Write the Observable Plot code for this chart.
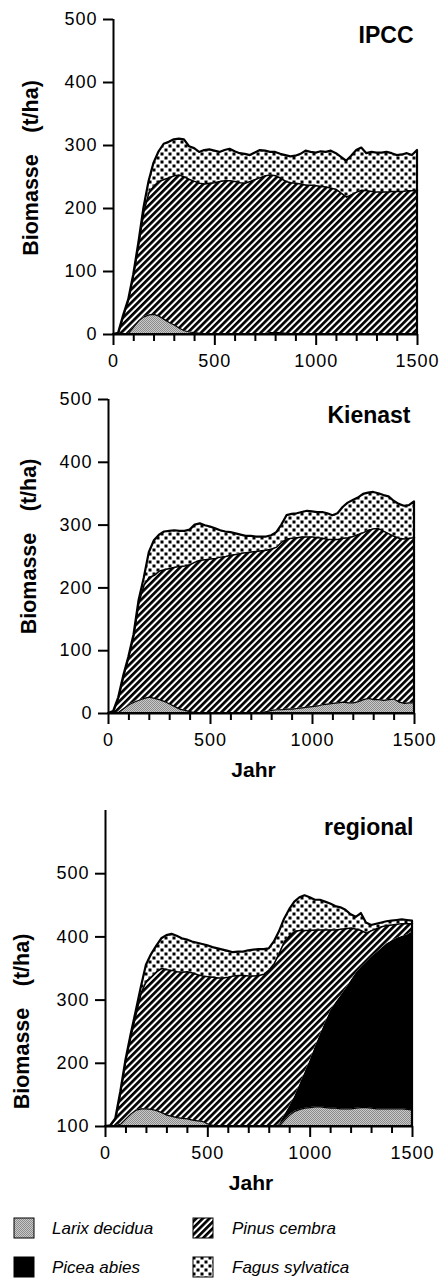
<!DOCTYPE html>
<html><head><meta charset="utf-8">
<script src="https://cdn.jsdelivr.net/npm/d3@7"></script>
<script src="https://cdn.jsdelivr.net/npm/@observablehq/plot@0.6"></script>
<style>
html,body{margin:0;padding:0;background:#fff;}
#root{position:relative;width:439px;height:1278px;overflow:hidden;font-family:"Liberation Sans",Arial,sans-serif;}
.panel{position:absolute;left:0;}
g[aria-label$="tick label"] text{letter-spacing:1px;}
g[aria-label="panel title"] text{letter-spacing:3.6px;}
g[aria-label="x label"] text{letter-spacing:1.3px;}
</style></head><body>
<svg width="0" height="0" style="position:absolute">
<defs>
<pattern id="larixPat" patternUnits="userSpaceOnUse" width="2" height="2">
 <rect width="2" height="2" fill="#cacaca"/>
 <rect width="1" height="1" fill="#8a8a8a"/>
 <rect x="1" y="1" width="1" height="1" fill="#8a8a8a"/>
</pattern>
<pattern id="pinusPat" patternUnits="userSpaceOnUse" width="4.7" height="10" patternTransform="rotate(45)">
 <rect width="4.7" height="10" fill="#fff"/>
 <rect width="2.7" height="10" fill="#000"/>
</pattern>
<pattern id="fagusPat" patternUnits="userSpaceOnUse" width="8" height="8">
 <rect width="8" height="8" fill="#fff"/>
 <rect x="0.5" y="0.5" width="3" height="3" fill="#000"/>
 <rect x="4.5" y="4.5" width="3" height="3" fill="#000"/>
</pattern>
</defs></svg>
<div id="root">
 <div class="panel" id="p1" style="top:0px"></div>
 <div class="panel" id="p2" style="top:380px"></div>
 <div class="panel" id="p3" style="top:780px"></div>
 <div class="panel" id="legend" style="top:1200px"></div>
</div>
<script>
const FONT = '"Liberation Sans", Arial, Helvetica, sans-serif';

// Jahr (x grid)
const years = [0,25,50,75,100,125,150,175,200,225,250,275,300,325,350,375,400,425,450,475,
  500,525,550,575,600,625,650,675,700,725,750,775,800,825,850,875,900,925,950,975,
  1000,1025,1050,1075,1100,1125,1150,1175,1200,1225,1250,1275,1300,1325,1350,1375,1400,1425,1450,1475,1500];

// Tick labels
const xMajorTicks = [0, 500, 1000, 1500];
const xMinorTicks = [100,200,300,400,600,700,800,900,1100,1200,1300,1400];
const yTicksA = [0, 100, 200, 300, 400, 500];
const yTicksC = [100, 200, 300, 400, 500];

// Titles and labels
const titles = ["IPCC", "Kienast", "regional"];
const yLabel = "Biomasse\u2003(t/ha)";
const xLabel = "Jahr";
const speciesNames = ["Larix decidua", "Pinus cembra", "Picea abies", "Fagus sylvatica"];

// Biomasse (t/ha) per species — IPCC
const ipccLarix = [0,0,0,2,12,22,28,31,32,29,24,19,15,10,6,4,3,2,1,1,
  0,0,0,0,0,0,0,0,0,0,2,3,3,3,2,1,0,0,0,0,
  0,0,0,0,0,0,0,0,0,0,0,0,0,0,0,0,0,0,0,0,0];
const ipccPinus = [0,2,30,53,83,121,167,194,204,214,222,230,237,243,244,242,240,238,238,239,
  241,243,244,244,243,241,240,243,246,249,250,250,249,245,241,240,240,239,237,237,
  236,235,234,232,230,224,218,222,226,229,228,227,226,226,226,227,227,227,228,228,229];
const ipccFagus = [0,0,0,0,0,2,5,17,36,47,56,56,57,57,59,52,52,49,53,53,
  50,46,48,50,47,46,46,41,42,43,39,36,37,38,41,41,43,47,54,52,
  52,55,55,59,57,57,57,61,66,67,59,62,62,62,63,60,57,58,59,56,63];

// Kienast
const kienLarix = [0,0,2,8,14,18,21,24,26,24,22,19,15,11,7,5,3,1,0,0,
  0,0,0,0,0,0,0,0,0,0,1,3,5,6,6,7,7,8,9,10,
  11,12,14,15,16,17,18,17,17,19,22,24,22,22,21,22,23,18,16,17,17];
const kienPinus = [0,3,23,52,76,107,157,181,191,196,205,210,216,222,227,230,234,240,244,245,
  246,247,249,250,252,253,255,256,257,258,258,257,257,259,267,271,272,272,272,271,
  270,268,265,262,261,260,261,263,265,266,266,268,272,272,269,264,259,261,262,262,263];
const kienFagus = [0,0,0,0,0,0,2,10,39,55,57,60,59,58,56,55,55,59,58,54,
  51,47,42,39,36,33,29,26,25,23,22,21,21,23,27,37,38,38,39,41,
  40,40,41,41,38,41,49,55,57,58,61,59,58,56,57,59,56,54,52,52,57];

// regional (axis starts at 100)
const regBase = 100;
const regLarix = [0,0,1,4,12,20,26,28,28,27,25,22,18,16,14,13,12,10,9,8,
  4,2,0,0,0,0,0,0,0,0,0,0,0,0,1,10,18,24,27,29,
  30,31,31,30,29,29,28,28,28,29,30,30,29,28,28,28,28,28,28,27,26];
const regPicea = [0,0,0,0,0,0,0,0,0,0,0,0,0,0,0,0,0,0,0,0,
  0,0,0,0,0,0,0,0,0,0,0,0,0,0,2,8,14,24,40,57,
  75,95,115,135,154,167,179,190,203,214,222,230,239,247,254,261,266,270,273,276,282];
const regPinus = [0,1,11,51,93,123,152,184,202,210,220,228,230,231,231,231,233,233,231,230,
  233,234,235,235,236,238,239,239,238,238,239,241,248,258,272,275,270,261,243,224,
  205,185,165,146,128,115,105,95,83,69,58,46,42,38,34,29,25,22,20,18,13];
const regFagus = [0,0,0,0,0,2,4,8,25,35,40,47,54,57,56,53,50,49,50,50,
  49,47,46,44,41,37,37,37,40,41,41,39,33,34,33,35,41,46,52,55,
  52,47,47,44,41,37,34,29,21,19,27,16,8,7,6,6,6,6,6,5,4];

const fills = {larix: "url(#larixPat)", picea: "#000", pinus: "url(#pinusPat)", fagus: "url(#fagusPat)"};
const fmt = d3.format("d");

function makePanel(cfg) {
  const rows = years.map((year, i) => {
    const base = cfg.base;
    const l = base + cfg.larix[i];
    const c = l + (cfg.picea ? cfg.picea[i] : 0);
    const p = c + cfg.pinus[i];
    const t = p + cfg.fagus[i];
    return {year, base, l, c, p, t};
  });
  const marks = [
    Plot.areaY(rows, {x: "year", y1: "base", y2: "l", fill: fills.larix}),
  ];
  if (cfg.picea) marks.push(Plot.areaY(rows, {x: "year", y1: "l", y2: "c", fill: fills.picea}));
  marks.push(
    Plot.areaY(rows, {x: "year", y1: "c", y2: "p", fill: fills.pinus}),
    Plot.areaY(rows, {x: "year", y1: "p", y2: "t", fill: fills.fagus}),
    Plot.lineY(rows, {x: "year", y: "l", stroke: "#000", strokeWidth: 1.2}),
    Plot.lineY(rows, {x: "year", y: "p", stroke: "#000", strokeWidth: 1.5}),
    Plot.areaY(rows, {x: "year", y1: "base", y2: "t", fill: "none", stroke: "#000", strokeWidth: 2.2, strokeLinejoin: "round"}),
    Plot.ruleX([0], {strokeWidth: 2}),
    Plot.ruleY([cfg.yDomain[0]], {strokeWidth: 2}),
    Plot.axisY(cfg.yTicks, {tickSize: 10, tickPadding: 6, strokeWidth: 2, label: null, fontSize: 18, tickFormat: fmt}),
    Plot.axisX(xMajorTicks, {tickSize: 11, tickPadding: 9, strokeWidth: 2, label: null, fontSize: 18, tickFormat: fmt}),
    Plot.axisX(xMinorTicks, {tickSize: 7, strokeWidth: 2, label: null, tickFormat: () => ""}),
    Plot.text([cfg.title], {text: d => d, frameAnchor: "top-right", textAnchor: "end", lineAnchor: "middle",
      dx: cfg.titleDx, dy: cfg.titleDy, fontWeight: "bold", fontSize: 23, ariaLabel: "panel title"}),
    Plot.text([yLabel], {text: d => d, frameAnchor: "left", rotate: -90, textAnchor: "middle", lineAnchor: "middle",
      dx: cfg.ylabDx, dy: cfg.ylabDy, fontWeight: "bold", fontSize: 21.5, ariaLabel: "y label"})
  );
  if (cfg.jahr) marks.push(
    Plot.text([xLabel], {text: d => d, frameAnchor: "bottom", textAnchor: "middle", lineAnchor: "middle",
      dx: cfg.jahrDx, dy: 57, fontWeight: "bold", fontSize: 21, ariaLabel: "x label"})
  );
  return Plot.plot({
    width: 439, height: cfg.height,
    marginTop: cfg.mt, marginBottom: cfg.mb, marginLeft: cfg.ml, marginRight: cfg.mr,
    x: {domain: [0, 1500]},
    y: {domain: cfg.yDomain},
    style: {fontFamily: FONT, fontSize: "18px", color: "#000", background: "transparent", overflow: "visible"},
    marks
  });
}

document.getElementById("p1").append(makePanel({
  height: 375, mt: 19, mb: 41, ml: 113, mr: 22, yDomain: [0, 500], yTicks: yTicksA, base: 0,
  title: titles[0], titleDx: -4, titleDy: 16, ylabDx: -82, ylabDy: -9,
  larix: ipccLarix, pinus: ipccPinus, fagus: ipccFagus, jahr: false
}));
document.getElementById("p2").append(makePanel({
  height: 400, mt: 19, mb: 67, ml: 108, mr: 25, yDomain: [0, 500], yTicks: yTicksA, base: 0,
  title: titles[1], titleDx: -4, titleDy: 16, ylabDx: -79, ylabDy: -10, jahrDx: -8,
  larix: kienLarix, pinus: kienPinus, fagus: kienFagus, jahr: true
}));
document.getElementById("p3").append(makePanel({
  height: 416, mt: 30, mb: 70, ml: 105, mr: 27, yDomain: [100, 600], yTicks: yTicksC, base: regBase,
  title: titles[2], titleDx: 1, titleDy: 17, ylabDx: -83, ylabDy: 53, jahrDx: -8,
  larix: regLarix, picea: regPicea, pinus: regPinus, fagus: regFagus, jahr: true
}));

// Legend
const legendFills = [fills.larix, fills.pinus, fills.picea, fills.fagus];
const leg = d3.select("#legend").append("svg").attr("width", 439).attr("height", 78)
  .style("font-family", FONT);
speciesNames.forEach((name, i) => {
  const col = i % 2, row = Math.floor(i / 2);
  const sx = col === 0 ? 14 : 193, sy = row === 0 ? 18 : 57;
  leg.append("rect").attr("x", sx).attr("y", sy).attr("width", 20).attr("height", 20)
    .attr("fill", legendFills[i]).attr("stroke", "#000").attr("stroke-width", 1);
  leg.append("text").attr("x", col === 0 ? 52 : 232).attr("y", sy + 10).attr("dy", "0.35em")
    .attr("font-size", 17).attr("font-style", "italic").text(name);
});
</script>
</body></html>
